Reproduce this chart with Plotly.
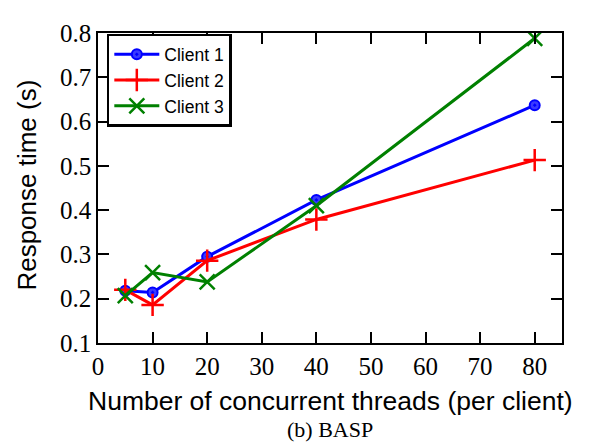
import plotly.graph_objects as go

threads = [5, 10, 20, 40, 80]
client1 = [0.218, 0.214, 0.295, 0.423, 0.637]
client2 = [0.220, 0.186, 0.286, 0.379, 0.513]
client3 = [0.207, 0.259, 0.238, 0.410, 0.788]
x_ticks = [0, 10, 20, 30, 40, 50, 60, 70, 80]
y_ticks = [0.1, 0.2, 0.3, 0.4, 0.5, 0.6, 0.7, 0.8]

fig = go.Figure()
fig.add_trace(go.Scatter(x=threads, y=client1, name="Client 1", mode="lines+markers",
                         line=dict(color="blue", width=3),
                         marker=dict(symbol="circle-dot", size=10, color="#3a3aff",
                                     line=dict(color="blue", width=2))))
fig.add_trace(go.Scatter(x=threads, y=client2, name="Client 2", mode="lines+markers",
                         line=dict(color="red", width=3),
                         marker=dict(symbol="cross-thin", size=16, color="red",
                                     line=dict(color="red", width=2.5))))
fig.add_trace(go.Scatter(x=threads, y=client3, name="Client 3", mode="lines+markers",
                         line=dict(color="green", width=3),
                         marker=dict(symbol="x-thin", size=15, color="green",
                                     line=dict(color="green", width=2.5))))

tickfont = dict(family="Liberation Serif", size=25, color="black")
fig.update_layout(
    width=588, height=438,
    margin=dict(l=90, r=34, t=16, b=103),
    plot_bgcolor="white", paper_bgcolor="white",
    showlegend=True,
    legend=dict(x=0.019, y=0.997, xanchor="left", yanchor="top",
                bordercolor="black", borderwidth=2.5, bgcolor="white",
                font=dict(family="Liberation Sans", size=17.5, color="black"),
                tracegroupgap=0, itemwidth=45),
    xaxis=dict(range=[0, 85], tickvals=x_ticks, ticks="inside", ticklen=11,
               tickwidth=1.5, tickcolor="black", showline=True, linecolor="black",
               linewidth=1.5, mirror="ticks", showgrid=False, zeroline=False,
               tickfont=tickfont),
    yaxis=dict(range=[0.1, 0.8], tickvals=y_ticks, ticktext=[f"{v:.1f}" for v in y_ticks],
               ticks="inside", ticklen=11, tickwidth=1.5, tickcolor="black",
               showline=True, linecolor="black", linewidth=1.5, mirror="ticks",
               showgrid=False, zeroline=False, tickfont=tickfont),
    annotations=[
        dict(text="Number of concurrent threads (per client)", xref="paper", yref="paper",
             x=0.5, y=-0.188, xanchor="center", yanchor="middle", showarrow=False,
             font=dict(family="Liberation Sans", size=26.5, color="black")),
        dict(text="Response time (s)", xref="paper", yref="paper", textangle=-90,
             x=-0.155, y=0.508, xanchor="center", yanchor="middle", showarrow=False,
             font=dict(family="Liberation Sans", size=26, color="black")),
        dict(text="(b) BASP", xref="paper", yref="paper", x=0.5, y=-0.279,
             xanchor="center", yanchor="middle", showarrow=False,
             font=dict(family="Liberation Serif", size=22, color="black")),
    ],
)
fig.write_html("out.html")
